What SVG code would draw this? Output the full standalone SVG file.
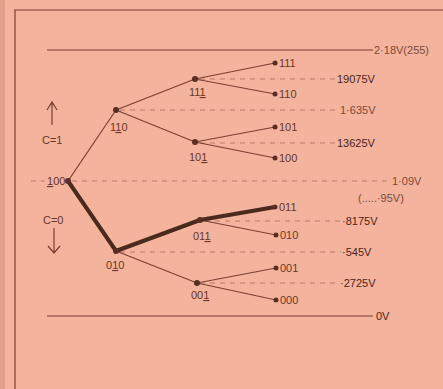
<svg xmlns="http://www.w3.org/2000/svg" width="443" height="389" viewBox="0 0 443 389">
<defs>
<style>
text{font-family:"Liberation Sans","DejaVu Sans",sans-serif;font-size:11px;fill:#6a3628}
.v{font-size:11px;fill:#4e2418}
.lt{fill:#7a4a3c}
.thin{stroke:#7a4033;stroke-width:1.2;fill:none}
.thick{stroke:#4a2a1c;stroke-width:4;fill:none;stroke-linecap:round;stroke-linejoin:round}
.dash{stroke:#bb7b6a;stroke-width:1;stroke-dasharray:5 5;fill:none}
.solid{stroke:#7a4033;stroke-width:1.2;fill:none}
.dot{fill:#5a2e22}
</style>
</defs>
<rect width="443" height="389" fill="#f3b39c"/>
<rect x="0" y="0" width="5" height="389" fill="#e0a08a"/>
<g id="frame" class="solid">
<line x1="14" y1="10" x2="443" y2="10"/>
<line x1="15" y1="10" x2="15" y2="389"/>
</g>
<g id="levels">
<line class="solid" x1="47" y1="50" x2="373" y2="50"/>
<line class="solid" x1="47" y1="316" x2="373" y2="316"/>
<line class="dash" x1="200" y1="79" x2="336" y2="79"/>
<line class="dash" x1="120" y1="110" x2="339" y2="110"/>
<line class="dash" x1="200" y1="143" x2="336" y2="143"/>
<line class="dash" x1="31" y1="181" x2="45" y2="181"/>
<line class="dash" x1="72" y1="181" x2="391" y2="181"/>
<line class="dash" x1="205" y1="221" x2="341" y2="221"/>
<line class="dash" x1="120" y1="252" x2="341" y2="252"/>
<line class="dash" x1="200" y1="283" x2="339" y2="283"/>
<text class="v lt" x="374" y="54">2·18V(255)</text>
<text class="v" x="337" y="83">19075V</text>
<text class="v lt" x="340" y="114">1·635V</text>
<text class="v" x="337" y="147">13625V</text>
<text class="v lt" x="392" y="185">1·09V</text>
<text class="v lt" x="358" y="202">(.....·95V)</text>
<text class="v" x="342" y="225">·8175V</text>
<text class="v" x="342" y="256">·545V</text>
<text class="v" x="340" y="287">·2725V</text>
<text class="v" x="376" y="320">0V</text>
</g>
<g id="direction">
<text x="42" y="144">C=1</text>
<path class="thin" d="M52 125V103M47 110L52 102L57 110"/>
<text x="43" y="224">C=0</text>
<path class="thin" d="M54 228V253M48 246L54 253L60 246"/>
</g>
<g id="connectors">
<path class="thin" d="M68 181L116 110"/>
<path class="thin" d="M116 110L195 79"/>
<path class="thin" d="M116 110L195 142"/>
<path class="thin" d="M195 79L275 63"/>
<path class="thin" d="M195 79L275 94"/>
<path class="thin" d="M195 142L275 127"/>
<path class="thin" d="M195 142L275 158"/>
<path class="thin" d="M116 251L197 283"/>
<path class="thin" d="M200 220L276 235"/>
<path class="thin" d="M197 283L276 268"/>
<path class="thin" d="M197 283L276 300"/>
<path class="thick" d="M68 181L116 251L200 220L275 207"/>
</g>
<g id="n100"><circle class="dot" cx="68" cy="181" r="3"/><text x="47" y="185"><tspan text-decoration="underline">1</tspan>00</text></g>
<g id="n110"><circle class="dot" cx="116" cy="110" r="3"/><text x="110" y="131">1<tspan text-decoration="underline">1</tspan>0</text></g>
<g id="n010"><circle class="dot" cx="116" cy="251" r="3"/><text x="106" y="269">0<tspan text-decoration="underline">1</tspan>0</text></g>
<g id="n111"><circle class="dot" cx="195" cy="79" r="3"/><text x="189" y="96">11<tspan text-decoration="underline">1</tspan></text></g>
<g id="n101"><circle class="dot" cx="195" cy="142" r="3"/><text x="189" y="161">10<tspan text-decoration="underline">1</tspan></text></g>
<g id="n011"><circle class="dot" cx="200" cy="220" r="3"/><text x="193" y="240">01<tspan text-decoration="underline">1</tspan></text></g>
<g id="n001"><circle class="dot" cx="197" cy="283" r="3"/><text x="191" y="299">00<tspan text-decoration="underline">1</tspan></text></g>
<g id="leaf111"><circle class="dot" cx="275" cy="63" r="2.5"/><text x="279" y="67">111</text></g>
<g id="leaf110"><circle class="dot" cx="275" cy="94" r="2.5"/><text x="279" y="98">110</text></g>
<g id="leaf101"><circle class="dot" cx="275" cy="127" r="2.5"/><text x="279" y="131">101</text></g>
<g id="leaf100"><circle class="dot" cx="275" cy="158" r="2.5"/><text x="279" y="162">100</text></g>
<g id="leaf011"><circle class="dot" cx="275" cy="207" r="2.5"/><text x="279" y="211">011</text></g>
<g id="leaf010"><circle class="dot" cx="276" cy="235" r="2.5"/><text x="280" y="239">010</text></g>
<g id="leaf001"><circle class="dot" cx="276" cy="268" r="2.5"/><text x="280" y="272">001</text></g>
<g id="leaf000"><circle class="dot" cx="276" cy="300" r="2.5"/><text x="280" y="304">000</text></g>
</svg>
